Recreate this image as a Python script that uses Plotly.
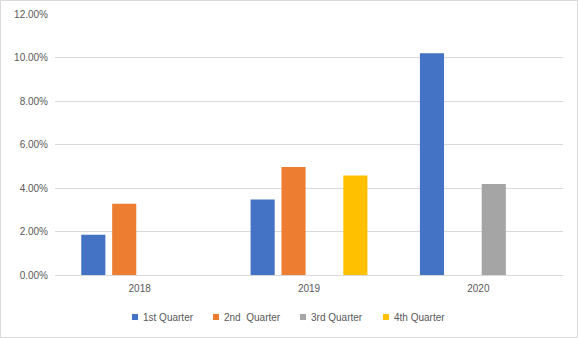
import plotly.graph_objects as go

years = ["2018", "2019", "2020"]
series_names = ["1st Quarter", "2nd\u00a0 Quarter", "3rd Quarter", "4th Quarter"]
q1 = [0.0185, 0.0347, 0.1020]
q2 = [0.0328, 0.0497, None]
q3 = [None, None, 0.0418]
q4 = [None, 0.0457, None]
colors = ["#4472C4", "#ED7D31", "#A5A5A5", "#FFC000"]

fig = go.Figure()
for name, vals, c in zip(series_names, [q1, q2, q3, q4], colors):
    fig.add_trace(go.Bar(x=years, y=vals, name=name, marker_color=c,
                         marker_line_width=0, showlegend=False))

W, H = 578, 338
ml, mr, mt, mb = 55, 15, 14, 63
pw, ph = W - ml - mr, H - mt - mb

# custom legend (Excel-like: small square close to label)
legend_px = [132, 213, 300, 383]
leg_y = -(317 - (H - mb)) / ph
sq = 6
shapes = [dict(type="rect", xref="paper", yref="paper",
               x0=-(ml - 0.5) / pw, x1=1 + (mr - 0.5) / pw,
               y0=-(mb - 0.5) / ph, y1=1 + (mt - 0.5) / ph,
               line=dict(color="#D9D9D9", width=1), layer="below")]
annotations = []
for name, c, px in zip(series_names, colors, legend_px):
    shapes.append(dict(type="rect", xref="paper", yref="paper",
                       x0=(px - ml) / pw, x1=(px + sq - ml) / pw,
                       y0=leg_y - (sq / 2) / ph, y1=leg_y + (sq / 2) / ph,
                       fillcolor=c, line=dict(width=0)))
    annotations.append(dict(xref="paper", yref="paper", x=(px + sq + 3 - ml) / pw, y=leg_y,
                            xanchor="left", yanchor="middle", showarrow=False, text=name,
                            font=dict(size=10, color="#595959")))

fig.update_layout(
    width=W, height=H,
    margin=dict(l=ml, r=mr, t=mt, b=mb, autoexpand=False),
    paper_bgcolor="white", plot_bgcolor="white",
    barmode="group", bargap=0.27, bargroupgap=0.22,
    font=dict(family="Liberation Sans, Arial, sans-serif", size=10, color="#595959"),
    yaxis=dict(range=[0, 0.12], dtick=0.02, tickformat=".2%", showgrid=True,
               gridcolor="#D9D9D9", gridwidth=1, zeroline=False, showline=False,
               ticks="", ticklabelstandoff=6),
    xaxis=dict(showline=True, linecolor="#D9D9D9", linewidth=1, ticks="", showgrid=False,
               ticklabelstandoff=4),
    shapes=shapes,
    annotations=annotations,
)

fig.write_html("out.html")
